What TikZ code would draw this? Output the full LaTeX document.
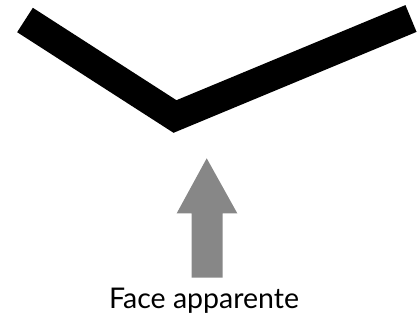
\documentclass[tikz,border=0pt]{standalone}
\usepackage{fontspec}
\setmainfont{Lato}
\begin{document}
\begin{tikzpicture}[x=1pt,y=-1pt,
  vline/.style={line width=29pt, line join=miter, line cap=butt, draw=black},
  uparrow/.style={fill=black!47, draw=none},
  caption/.style={font=\fontsize{28.5}{34}\selectfont, inner sep=0pt, anchor=base}]
\useasboundingbox (0,0) rectangle (418,320);
\coordinate (L) at (25,20);
\coordinate (V) at (175,116.5);
\coordinate (R) at (411,18.5);
\draw[vline] (L) -- (V) -- (R);
\fill[uparrow] (206.7,158.3) -- (237.3,213.3) -- (222.7,213.3) -- (222.7,277.7)
  -- (191.7,277.7) -- (191.7,213.3) -- (176.7,213.3) -- cycle;
\node[caption] (cap) at (204,309) {Face apparente};
\end{tikzpicture}
\end{document}
